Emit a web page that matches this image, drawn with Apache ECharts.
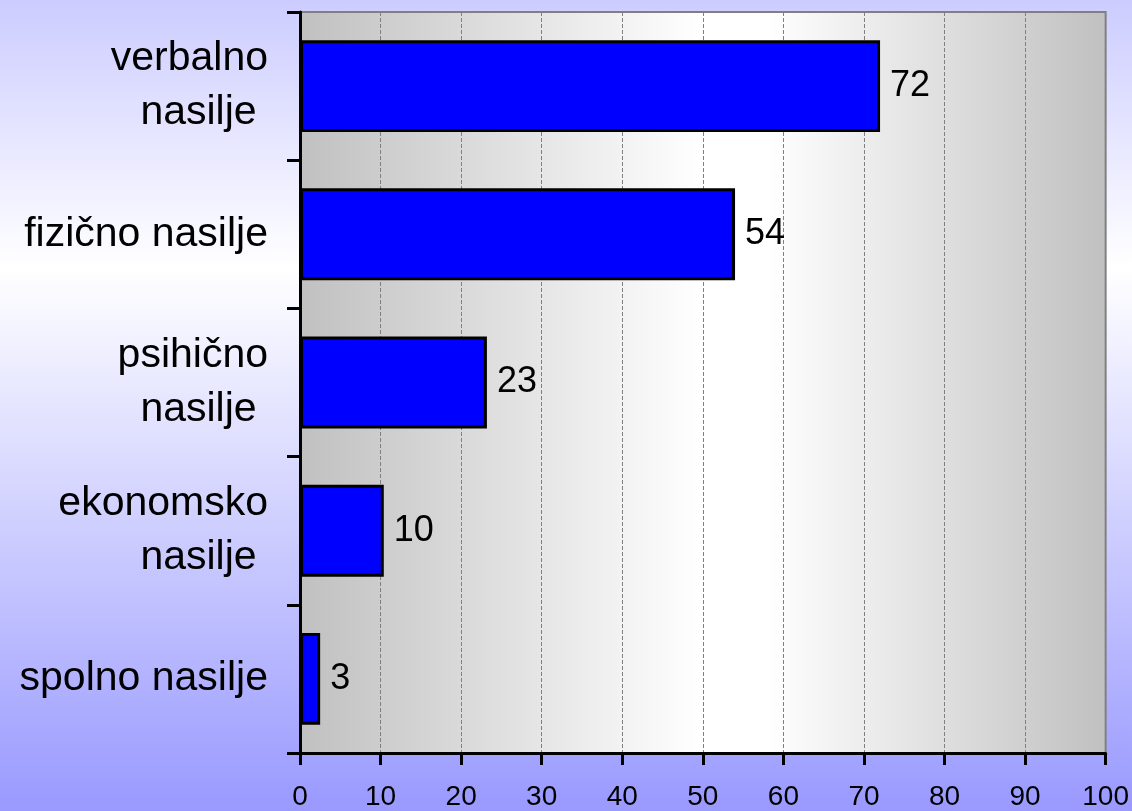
<!DOCTYPE html>
<html>
<head>
<meta charset="utf-8">
<script src="https://cdn.jsdelivr.net/npm/echarts@6/dist/echarts.min.js"></script>
<style>
html,body{margin:0;padding:0;}
#c{width:1132px;height:811px;}
</style>
</head>
<body>
<div id="c"></div>
<script>
// Categories, bottom to top as drawn by ECharts' category y axis
var categories = ['spolno nasilje', 'ekonomsko\nnasilje ', 'psihično\nnasilje ', 'fizično nasilje', 'verbalno\nnasilje '];
var values = [2.5, 10.4, 23.2, 54, 72];
var xTicks = [0, 10, 20, 30, 40, 50, 60, 70, 80, 90, 100];

var FONT = 'Liberation Sans, Arial, sans-serif';
var chart = echarts.init(document.getElementById('c'));
chart.setOption({
  backgroundColor: new echarts.graphic.LinearGradient(0, 0, 0, 1, [
    {offset: 0, color: '#ccccff'},
    {offset: 0.33, color: '#ffffff'},
    {offset: 1, color: '#9999ff'}
  ]),
  animation: false,
  grid: {
    left: 300, right: 25, top: 12, bottom: 58,
    show: true,
    borderColor: '#808080',
    borderWidth: 2,
    backgroundColor: new echarts.graphic.LinearGradient(0, 0, 1, 0, [
      {offset: 0, color: '#c0c0c0'},
      {offset: 0.5, color: '#ffffff'},
      {offset: 0.58, color: '#ffffff'},
      {offset: 1, color: '#c0c0c0'}
    ])
  },
  xAxis: {
    type: 'value',
    min: xTicks[0], max: xTicks[xTicks.length - 1], interval: 10,
    axisLine: {show: true, lineStyle: {color: '#000', width: 3}},
    axisTick: {show: true, length: 12, lineStyle: {color: '#000', width: 3}},
    axisLabel: {color: '#000', fontSize: 28, fontFamily: FONT, margin: 30},
    splitLine: {show: true, lineStyle: {color: '#808080', type: 'dashed', width: 1}}
  },
  yAxis: {
    type: 'category',
    data: categories,
    axisLine: {show: true, lineStyle: {color: '#000', width: 3}},
    axisTick: {show: true, length: 13, lineStyle: {color: '#000', width: 3}},
    axisLabel: {color: '#000', fontSize: 41, fontFamily: FONT, margin: 32, lineHeight: 54, align: 'right'},
    splitLine: {show: false}
  },
  series: [{
    type: 'bar',
    data: values,
    barCategoryGap: '38%',
    itemStyle: {color: '#0000ff', borderColor: '#000', borderWidth: 3},
    label: {
      show: true, position: 'right', distance: 10,
      color: '#000', fontSize: 36, fontFamily: FONT,
      formatter: function (p) { return Math.round(p.value); }
    }
  }]
});
</script>
</body>
</html>
